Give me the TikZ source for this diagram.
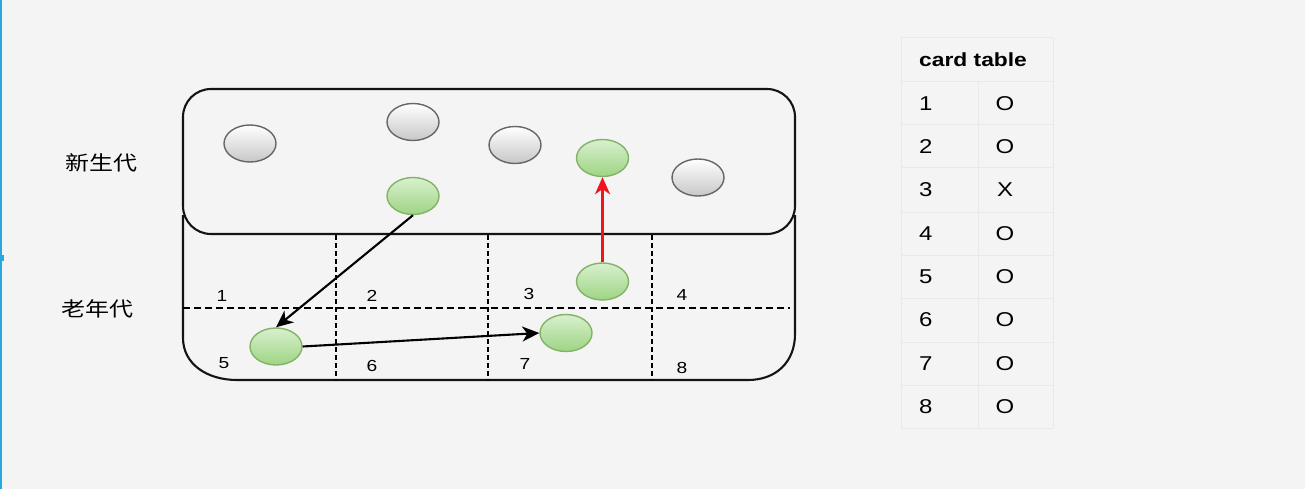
\documentclass[tikz,border=0pt]{standalone}
\usepackage{fontspec}
\setmainfont{Liberation Sans}[FakeStretch=1.2]
\newfontfamily\cjk{Noto Sans CJK SC}[FakeStretch=1.2]
\usetikzlibrary{arrows.meta,shapes.geometric}
\definecolor{bgcol}{HTML}{F4F4F4}
\definecolor{tline}{HTML}{E9E9E9}
\definecolor{gborder}{HTML}{82B366}
\definecolor{gtop}{HTML}{D8F0CE}
\definecolor{gbot}{HTML}{9ED484}
\definecolor{redarrow}{HTML}{F0141E}
\definecolor{winedge}{HTML}{29A8E0}
\begin{document}
\begin{tikzpicture}[x=1pt,y=-1pt,
  outline/.style={line width=2.1pt,draw=black!92},
  greyball/.style={ellipse,minimum width=52pt,minimum height=37pt,inner sep=0pt,draw=black!60,line width=1.4pt,top color=white,bottom color=black!22},
  greenball/.style={ellipse,minimum width=52pt,minimum height=37pt,inner sep=0pt,draw=gborder,line width=1.4pt,top color=gtop,bottom color=gbot},
  vdiv/.style={line width=2.1pt,dash pattern=on 5pt off 3pt},
  hdiv/.style={line width=1.8pt,dash pattern=on 7pt off 4pt},
  cell/.style={font=\fontsize{16}{18}\selectfont,inner sep=0pt},
  genlabel/.style={font=\cjk\fontsize{20}{24}\selectfont,inner sep=0pt},
  tcell/.style={font=\fontsize{20}{24}\selectfont,inner sep=0pt},
  tgrid/.style={draw=tline,line width=1pt},
  move/.style={line width=2.1pt,-{Stealth[length=17pt,width=15pt,inset=5pt]}}
]
\fill[bgcol] (0,0) rectangle (1305,489);
\useasboundingbox (0,0) rectangle (1305,489);
% window edge
\draw[draw=winedge,line width=2pt] (1,0) -- (1,489);
\fill[winedge] (0,255) rectangle (4,261);

% container
\draw[outline] (183,215) -- (183,338) .. controls (183,364) and (207,380) .. (237,380)
  -- (748,380) .. controls (776,380) and (795,362) .. (795,334) -- (795,215);
\draw[outline,rounded corners=28pt] (183,89) rectangle (795,234);

% dividers
\foreach \x in {336,488,652} \draw[vdiv] (\x,235) -- (\x,380);
\draw[hdiv] (183,308) -- (790,308);

% region labels
\node[cell] (c1) at (222,295.5) {1};
\node[cell] (c2) at (372,295.5) {2};
\node[cell] (c3) at (529,294) {3};
\node[cell] (c4) at (682,295) {4};
\node[cell] (c5) at (224,363) {5};
\node[cell] (c6) at (372,365.5) {6};
\node[cell] (c7) at (525,364) {7};
\node[cell] (c8) at (682,367.5) {8};

% generation labels
\node[genlabel] (young) at (101,163) {新生代};
\node[genlabel] (old) at (97,309) {老年代};

% objects
\node[greyball] (g1) at (250,143.5) {};
\node[greyball] (g2) at (413,122) {};
\node[greyball] (g3) at (515,145) {};
\node[greyball] (g4) at (698,177.5) {};
\node[greenball] (n1) at (413,196) {};
\node[greenball] (n2) at (602.5,158) {};
\node[greenball] (n3) at (602.5,281.5) {};
\node[greenball] (n4) at (566,333) {};
\node[greenball] (n5) at (276,346.5) {};

% moves
\draw[move] (n1.south) -- (n5.north);
\draw[move] (n5.east) -- (n4.west);
\draw[move,draw=redarrow,fill=redarrow] (n3.north) -- (n2.south);

% card table
\foreach \y in {38,82,125,168,212,255,298,342,385,428} \draw[tgrid] (901,\y) -- (1053,\y);
\draw[tgrid] (901,38) -- (901,428);
\draw[tgrid] (1053,38) -- (1053,428);
\draw[tgrid] (978,82) -- (978,428);
\node[tcell,font=\bfseries\fontsize{19}{24}\selectfont,anchor=west] (th) at (919,60) {card table};
\foreach \i/\y/\v in {1/103.5/O,2/146.5/O,3/190/X,4/233.5/O,5/276.5/O,6/320/O,7/363.5/O,8/406.5/O}{
  \node[tcell,anchor=west] (k\i) at (919,\y) {\i};
  \node[tcell] (v\i) at (1005,\y) {\v};
}
\end{tikzpicture}
\end{document}
